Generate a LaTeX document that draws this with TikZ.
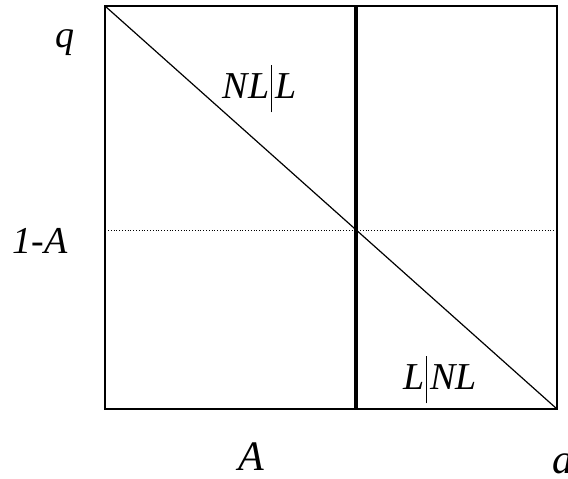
\documentclass[tikz,border=0pt]{standalone}
\usepackage{fontspec}
\setmainfont{Liberation Serif}
\usepackage{tikz}

\newcommand{\vbar}{\kern2pt\rule[-0.38em]{0.9pt}{1.25em}\kern3pt}

\begin{document}
\begin{tikzpicture}[x=1pt,y=-1pt,
  lab/.style={font=\fontsize{38}{42}\selectfont\itshape, inner sep=0pt, anchor=base},
  axlab/.style={font=\fontsize{42}{46}\selectfont\itshape, inner sep=0pt, anchor=base}]
%%%%%square starts here
\def\xl{105}
\def\xr{557}
\def\yt{6}
\def\yb{409}
\def\xm{356}
\def\ym{230}
\useasboundingbox (0,0) rectangle (568,479);

\coordinate (tl) at (\xl,\yt);
\coordinate (br) at (\xr,\yb);
\coordinate (mt) at (\xm,\yt);
\coordinate (mb) at (\xm,\yb);
\coordinate (dl) at (\xl+3,\ym);
\coordinate (dr) at (\xr-2,\ym);

\draw[dotted, line width=0.8pt] (dl) -- (dr);
\draw[line width=1.6pt] (tl) rectangle (br);
\draw[line width=1.2pt] (tl) -- (br);
\draw[line width=3.5pt] (mt) -- (mb);

\node[lab] (q) at (64.5,47) {q};
\node[lab] (oneA) at (40,253) {1-A};
\node[axlab] (A) at (251.5,470) {A};
\node[axlab, anchor=base west] (a) at (552,473) {a};
\node[lab] (nll) at (259.5,98) {NL\vbar L};
\node[lab] (lnl) at (440,389) {L\vbar NL};
%%%%%square ends here
\end{tikzpicture}
\end{document}
